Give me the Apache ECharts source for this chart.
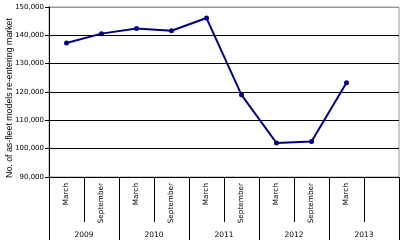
<!DOCTYPE html>
<html><head><meta charset="utf-8">
<script src="https://cdn.jsdelivr.net/npm/echarts@6/dist/echarts.min.js"></script>
<style>html,body{margin:0;padding:0;background:#fff}#c{width:401px;height:240px}</style>
</head><body><div id="c"></div>
<script>
const months = ['March','September','March','September','March','September','March','September','March',''];
const years = ['2009','2010','2011','2012','2013'];
const values = [137300, 140600, 142400, 141600, 146100, 119000, 102000, 102500, 123300];
const yTitle = 'No. of as-fleet models re-entering market';
const yMin = 90000, yMax = 150000, yStep = 10000;

const chart = echarts.init(document.getElementById('c'), null, {renderer:'canvas'});
const ff = 'DejaVu Sans';
chart.setOption({
  animation:false,
  backgroundColor:'#fff',
  grid:{left:49,right:2,top:7,bottom:63,containLabel:false,outerBoundsMode:'none',show:true,borderColor:'#999',borderWidth:1,backgroundColor:'transparent'},
  xAxis:[{
    type:'category', data:months, position:'bottom', boundaryGap:true,
    axisLine:{show:true,lineStyle:{color:'#000',width:1}},
    axisTick:{show:true,interval:0,length:45,lineStyle:{color:'#000'}},
    axisLabel:{interval:0,rotate:90,margin:6,fontSize:7.3,fontFamily:ff,color:'#000'},
    splitLine:{show:false}
  },{
    type:'category', data:years, position:'bottom', boundaryGap:true,
    axisLine:{show:false},
    axisTick:{show:true,interval:0,length:63,lineStyle:{color:'#000'}},
    axisLabel:{interval:0,margin:54,fontSize:7.5,fontFamily:ff,color:'#000'},
    splitLine:{show:false}
  }],
  yAxis:{
    type:'value', min:yMin, max:yMax, interval:yStep,
    name:yTitle, nameLocation:'middle', nameRotate:90, nameGap:35, nameMoveOverlap:false,
    nameTextStyle:{fontSize:8.8,fontFamily:'Liberation Sans',color:'#000',padding:[0,12,0,0]},
    axisLine:{show:true,lineStyle:{color:'#000'}},
    axisTick:{show:true,length:4,lineStyle:{color:'#000'}},
    axisLabel:{margin:5,fontSize:7,fontFamily:ff,color:'#000',
      formatter:v=>v.toLocaleString('en-US')},
    splitLine:{show:true,lineStyle:{color:['#000','#000','#000','#000','#000','#000','#999'],width:1}}
  },
  series:[{
    type:'line', xAxisIndex:0, data:values,
    symbol:'circle', symbolSize:5,
    lineStyle:{color:'#000080',width:2},
    itemStyle:{color:'#000080'}
  }]
});
</script></body></html>
